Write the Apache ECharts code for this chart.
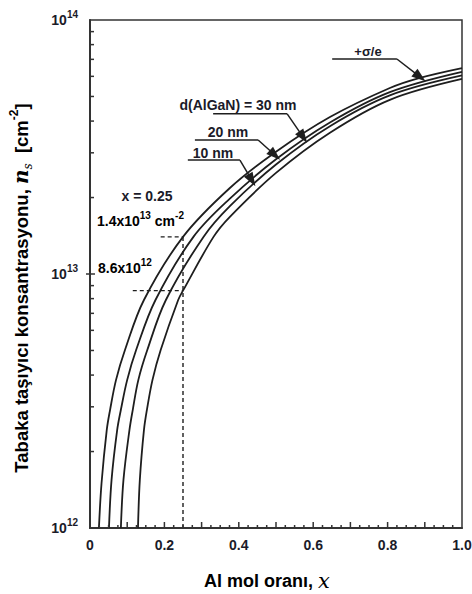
<!DOCTYPE html>
<html>
<head>
<meta charset="utf-8">
<script src="https://cdn.jsdelivr.net/npm/echarts@6/dist/echarts.min.js"></script>
<style>
  html, body { margin: 0; padding: 0; background: #fff; }
  #chart { width: 472px; height: 594px; }
</style>
</head>
<body>
<div id="chart"></div>
<script>
// Al mol oranı x  ->  n_s [cm^-2]
const xSigma = [0.024, 0.031, 0.045, 0.054, 0.070, 0.094, 0.145, 0.25, 0.376, 0.5, 0.645, 0.806, 0.887, 1.0];
const nsSigma = [1.0e12, 1.5e12, 2.43e12, 2.92e12, 3.83e12, 5.02e12, 7.9e12, 1.4e13, 2.18e13, 3.03e13, 4.15e13, 5.40e13, 5.92e13, 6.47e13];

const x30 = [0.051, 0.058, 0.073, 0.083, 0.100, 0.124, 0.176, 0.278, 0.376, 0.5, 0.645, 0.806, 1.0];
const ns30 = [1.0e12, 1.55e12, 2.43e12, 2.92e12, 3.83e12, 5.02e12, 7.9e12, 1.4e13, 1.98e13, 2.83e13, 3.95e13, 5.20e13, 6.25e13];

const x20 = [0.083, 0.090, 0.106, 0.115, 0.130, 0.154, 0.204, 0.305, 0.376, 0.5, 0.645, 0.806, 1.0];
const ns20 = [1.0e12, 1.55e12, 2.43e12, 2.92e12, 3.83e12, 5.02e12, 7.9e12, 1.4e13, 1.85e13, 2.70e13, 3.82e13, 5.05e13, 6.05e13];

const x10 = [0.129, 0.134, 0.145, 0.153, 0.168, 0.190, 0.237, 0.25, 0.332, 0.376, 0.5, 0.645, 0.806, 1.0];
const ns10 = [1.0e12, 1.55e12, 2.43e12, 2.92e12, 3.83e12, 5.02e12, 7.9e12, 8.6e12, 1.4e13, 1.68e13, 2.50e13, 3.60e13, 4.85e13, 5.86e13];

// x = 0.25 reference lines
const refX = 0.25;
const refHigh = 1.4e13;
const refLow = 8.6e12;
const refHighStart = 0.19;
const refLowStart = 0.115;

// leader lines of the curve labels: [start, corner, arrow tip]
const leaderSigma = [[0.651, 7.02e13], [0.825, 7.02e13], [0.887, 5.97e13]];
const leader30 = [[0.331, 4.27e13], [0.530, 4.27e13], [0.573, 3.46e13]];
const leader20 = [[0.282, 3.37e13], [0.452, 3.37e13], [0.497, 2.94e13]];
const leader10 = [[0.263, 2.81e13], [0.403, 2.81e13], [0.435, 2.34e13]];

// tick labels
const xLabelValues = [0, 0.2, 0.4, 0.6, 0.8, 1.0];
const xLabelTexts = ['0', '0.2', '0.4', '0.6', '0.8', '1.0'];
const yLabelValues = [1e12, 1e13, 1e14];
const yLabelExponents = ['12', '13', '14'];

// tick marks
const xMajorTicks = [0.1, 0.2, 0.3, 0.4, 0.5, 0.6, 0.7, 0.8, 0.9];
const xMinorTicks = [0.025, 0.05, 0.075, 0.125, 0.15, 0.175, 0.225, 0.25, 0.275, 0.325, 0.35, 0.375,
  0.425, 0.45, 0.475, 0.525, 0.55, 0.575, 0.625, 0.65, 0.675, 0.725, 0.75, 0.775,
  0.825, 0.85, 0.875, 0.925, 0.95, 0.975];
const yMinorTicks = [2e12, 3e12, 4e12, 5e12, 6e12, 7e12, 8e12, 9e12, 2e13, 3e13, 4e13, 5e13, 6e13, 7e13, 8e13, 9e13];
const yMajorTicks = [1e13];

const ink = '#1e1e1e';
const textInk = '#1b1b29';
const font = 'Liberation Sans, Arial, sans-serif';

function zip(xs, ys) {
  return xs.map((x, i) => [x, ys[i]]);
}

function curve(name, xs, ys) {
  return {
    name: name,
    type: 'line',
    data: zip(xs, ys),
    showSymbol: false,
    smooth: 0.35,
    lineStyle: { color: ink, width: 1.8 },
    silent: true,
    z: 3
  };
}

function leader(points) {
  return {
    type: 'line',
    data: points.slice(0, 2),
    showSymbol: false,
    lineStyle: { color: ink, width: 1.5 },
    silent: true,
    markLine: {
      silent: true,
      symbol: ['none', 'triangle'],
      symbolSize: [10, 14],
      label: { show: false },
      lineStyle: { color: ink, width: 1.5, type: 'solid' },
      data: [[{ coord: points[1] }, { coord: points[2] }]]
    }
  };
}

function dashed(points) {
  return {
    type: 'line',
    data: points,
    showSymbol: false,
    lineStyle: { color: ink, width: 1.4, type: [4, 3] },
    silent: true
  };
}

// tick data: [x, y, length, direction]  direction 0 = up, 1 = right, 2 = left
const tickData = []
  .concat(xMajorTicks.map(v => [v, 1e12, 6, 0]))
  .concat(xMinorTicks.map(v => [v, 1e12, 3, 0]))
  .concat(yMinorTicks.map(v => [0, v, 4, 1]))
  .concat(yMajorTicks.map(v => [0, v, 5, 1]))
  .concat(yMajorTicks.map(v => [0, v, 4, 2]));

const tickSeries = {
  type: 'custom',
  silent: true,
  clip: false,
  z: 5,
  data: tickData,
  renderItem: function (params, api) {
    const p = api.coord([api.value(0), api.value(1)]);
    const len = api.value(2);
    const dir = api.value(3);
    let x2 = p[0], y2 = p[1];
    if (dir === 0) y2 = p[1] - len;
    else if (dir === 1) x2 = p[0] + len;
    else x2 = p[0] - len;
    return {
      type: 'line',
      shape: { x1: p[0], y1: p[1], x2: x2, y2: y2 },
      style: { stroke: '#333', lineWidth: 1.5 }
    };
  }
};

const supStyle = { fontSize: 10, fontWeight: 'bold', fontFamily: font, color: textInk, verticalAlign: 'top' };
const baseStyle = { fontSize: 14, fontWeight: 'bold', fontFamily: font, color: textInk, lineHeight: 22 };

let chartDom = document.getElementById('chart');
let myChart = echarts.init(chartDom, null, { renderer: 'svg' });

let option = {
  animation: false,
  grid: {
    left: 90, right: 10, top: 20, bottom: 66,
    show: true, borderColor: '#333', borderWidth: 1.5,
    outerBoundsMode: 'none'
  },
  xAxis: {
    type: 'value',
    min: 0, max: 1, interval: 0.2,
    axisLine: { show: true, lineStyle: { color: '#333', width: 2 } },
    axisTick: { show: false },
    splitLine: { show: false },
    axisLabel: {
      margin: 10,
      fontSize: 14, fontWeight: 'bold', fontFamily: font, color: textInk,
      formatter: function (v) {
        const i = xLabelValues.findIndex(t => Math.abs(t - v) < 1e-9);
        return i < 0 ? String(v) : xLabelTexts[i];
      }
    }
  },
  yAxis: {
    type: 'log', logBase: 10,
    min: 1e12, max: 1e14,
    axisLine: { show: true, lineStyle: { color: '#333', width: 2 } },
    axisTick: { show: false },
    splitLine: { show: false },
    axisLabel: {
      margin: 12,
      formatter: function (v) {
        const i = yLabelValues.findIndex(t => Math.abs(t - v) / t < 1e-6);
        return i < 0 ? '' : '{b|10}{s|' + yLabelExponents[i] + '}';
      },
      rich: { b: baseStyle, s: supStyle }
    }
  },
  series: [
    curve('+σ/e', xSigma, nsSigma),
    curve('30 nm', x30, ns30),
    curve('20 nm', x20, ns20),
    curve('10 nm', x10, ns10),
    dashed([[refX, 1e12], [refX, refHigh]]),
    dashed([[refHighStart, refHigh], [refX, refHigh]]),
    dashed([[refLowStart, refLow], [refX, refLow]]),
    leader(leaderSigma),
    leader(leader30),
    leader(leader20),
    leader(leader10),
    tickSeries
  ],
  graphic: [
    {
      type: 'text', x: 21, y: 288, rotation: Math.PI / 2,
      style: {
        text: '{t|Tabaka taşıyıcı konsantrasyonu, }{n|n}{sub|s}{t|  [cm}{sup|-2}{t|]}',
        align: 'center', verticalAlign: 'middle',
        rich: {
          t: { fontSize: 18.5, fontWeight: 'bold', fontFamily: font, color: textInk, lineHeight: 26 },
          n: { fontSize: 20, fontFamily: 'DejaVu Serif', fontStyle: 'italic', fontWeight: 'bold', color: textInk, lineHeight: 26 },
          sub: { fontSize: 12, fontFamily: 'DejaVu Serif', fontStyle: 'italic', color: textInk, verticalAlign: 'bottom' },
          sup: { fontSize: 12, fontWeight: 'bold', fontFamily: font, color: textInk, verticalAlign: 'top' }
        }
      }
    },
    {
      type: 'text', x: 267, y: 581,
      style: {
        text: '{t|Al mol oranı, }{x|x}',
        align: 'center', verticalAlign: 'middle',
        rich: {
          t: { fontSize: 18, fontWeight: 'bold', fontFamily: font, color: textInk },
          x: { fontSize: 21, fontFamily: 'DejaVu Serif', fontStyle: 'italic', color: textInk }
        }
      }
    },
    {
      type: 'text', x: 368, y: 51,
      style: { text: '+σ/e', align: 'center', verticalAlign: 'middle', fontSize: 13, fontWeight: 'bold', fontFamily: font, fill: textInk }
    },
    {
      type: 'text', x: 238, y: 105,
      style: { text: 'd(AlGaN) = 30 nm', align: 'center', verticalAlign: 'middle', fontSize: 14, fontWeight: 'bold', fontFamily: font, fill: textInk }
    },
    {
      type: 'text', x: 228, y: 132,
      style: { text: '20 nm', align: 'center', verticalAlign: 'middle', fontSize: 14, fontWeight: 'bold', fontFamily: font, fill: textInk }
    },
    {
      type: 'text', x: 213, y: 153,
      style: { text: '10 nm', align: 'center', verticalAlign: 'middle', fontSize: 14, fontWeight: 'bold', fontFamily: font, fill: textInk }
    },
    {
      type: 'text', x: 147, y: 196,
      style: { text: 'x = 0.25', align: 'center', verticalAlign: 'middle', fontSize: 14, fontWeight: 'bold', fontFamily: font, fill: textInk }
    },
    {
      type: 'text', x: 97, y: 221,
      style: {
        text: '{b|1.4x10}{s|13}{b| cm}{s|-2}',
        align: 'left', verticalAlign: 'middle',
        rich: { b: baseStyle, s: supStyle }
      }
    },
    {
      type: 'text', x: 98, y: 268,
      style: {
        text: '{b|8.6x10}{s|12}',
        align: 'left', verticalAlign: 'middle',
        rich: { b: baseStyle, s: supStyle }
      }
    }
  ]
};

option && myChart.setOption(option);
</script>
</body>
</html>
